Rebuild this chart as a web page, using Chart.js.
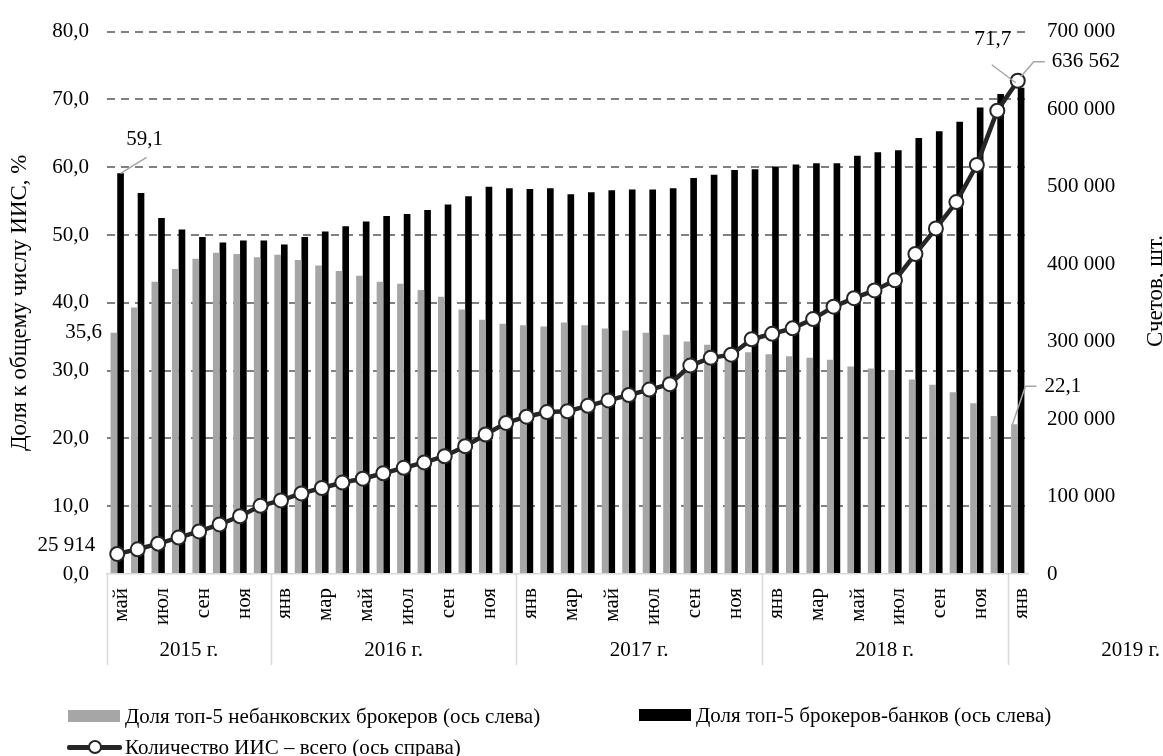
<!DOCTYPE html>
<html lang="ru">
<head>
<meta charset="utf-8">
<script src="https://cdn.jsdelivr.net/npm/chart.js@4.4.1/dist/chart.umd.min.js"></script>
<style>
  html, body { margin: 0; padding: 0; background: #fff; }
  #wrap { position: relative; width: 1163px; height: 756px; font-family: 'Liberation Serif', 'Times New Roman', serif; }
  #chart { position: absolute; left: 0; top: 0; }
  .lg { position: absolute; font-size: 21px; line-height: 24px; color: #000; white-space: nowrap; }
  .box { position: absolute; }
</style>
</head>
<body>
<div id="wrap">
  <canvas id="chart" width="1163" height="756"></canvas>
  <div id="legend"></div>
</div>
<script>
// categories: May 2015 .. Jan 2019
const categories = [
  'май', 'июн', 'июл', 'авг', 'сен', 'окт', 'ноя', 'дек',
  'янв', 'фев', 'мар', 'апр', 'май', 'июн', 'июл', 'авг', 'сен', 'окт', 'ноя', 'дек',
  'янв', 'фев', 'мар', 'апр', 'май', 'июн', 'июл', 'авг', 'сен', 'окт', 'ноя', 'дек',
  'янв', 'фев', 'мар', 'апр', 'май', 'июн', 'июл', 'авг', 'сен', 'окт', 'ноя', 'дек',
  'янв'
];
const years = ['2015 г.', '2016 г.', '2017 г.', '2018 г.', '2019 г.'];
const yearStarts = [0, 8, 20, 32, 44];

const seriesNames = [
  'Доля топ-5 небанковских брокеров (ось слева)',
  'Доля топ-5 брокеров-банков (ось слева)',
  'Количество ИИС – всего (ось справа)'
];

// % of all IIS accounts
const nonBankShare = [
  35.6, 39.3, 43.1, 45.0, 46.5, 47.4, 47.2, 46.7,
  47.1, 46.3, 45.5, 44.7, 44.0, 43.1, 42.8, 41.9, 40.9, 39.0, 37.5, 36.9,
  36.7, 36.5, 37.1, 36.7, 36.2, 35.9, 35.6, 35.3, 34.3, 33.8, 33.0, 32.7,
  32.4, 32.1, 31.9, 31.6, 30.6, 30.3, 30.1, 28.7, 27.9, 26.8, 25.2, 23.3,
  22.1
];
const bankShare = [
  59.1, 56.2, 52.5, 50.8, 49.7, 48.9, 49.2, 49.2,
  48.6, 49.7, 50.5, 51.3, 52.0, 52.8, 53.1, 53.7, 54.5, 55.7, 57.1, 56.9,
  56.8, 56.9, 56.0, 56.3, 56.6, 56.7, 56.7, 56.9, 58.4, 58.9, 59.6, 59.7,
  60.1, 60.4, 60.6, 60.6, 61.7, 62.2, 62.5, 64.3, 65.3, 66.7, 68.8, 70.8,
  71.7
];
// accounts, total
const accounts = [
  25914, 31900, 39200, 47000, 55000, 64000, 74500, 88000,
  95000, 104000, 111000, 118000, 123000, 130000, 137000, 144000, 152000, 165000, 180000, 195000,
  203000, 209000, 210000, 217000, 224000, 231000, 238000, 245000, 269000, 279000, 283000, 303000,
  310000, 317000, 329000, 345000, 356000, 366000, 379000, 413000, 446000, 480000, 528000, 598000,
  636562
];

const FONT = "'Liberation Serif', 'Times New Roman', serif";
const GREY = '#a6a6a6';
const LINE = '#262626';

const fmtPct = v => v.toFixed(1).replace('.', ',');
const fmtInt = v => String(Math.round(v)).replace(/\B(?=(\d{3})+(?!\d))/g, ' ');

// year groups, separators, right title, data labels
const extras = {
  id: 'extras',
  afterDraw(chart) {
    const { ctx, chartArea: a, scales: { x } } = chart;
    const half = (x.getPixelForValue(1) - x.getPixelForValue(0)) / 2;
    ctx.save();
    ctx.font = '21px ' + FONT;
    ctx.fillStyle = '#000';

    // group separators
    ctx.strokeStyle = '#d9d9d9';
    ctx.lineWidth = 1.5;
    yearStarts.forEach(i => {
      const bx = Math.round(x.getPixelForValue(i) - half) + 0.5;
      ctx.beginPath();
      ctx.moveTo(bx, a.bottom);
      ctx.lineTo(bx, a.bottom + 91);
      ctx.stroke();
    });

    // year labels
    ctx.textBaseline = 'middle';
    years.forEach((y, k) => {
      if (k === years.length - 1) {
        ctx.textAlign = 'right';
        ctx.fillText(y, chart.width - 3, a.bottom + 76);
        return;
      }
      const x0 = x.getPixelForValue(yearStarts[k]) - half;
      const x1 = x.getPixelForValue(yearStarts[k + 1]) - half;
      ctx.textAlign = 'center';
      ctx.fillText(y, (x0 + x1) / 2, a.bottom + 76);
    });

    // right axis title, reading bottom to top
    ctx.save();
    ctx.font = '23px ' + FONT;
    ctx.translate(chart.width - 1, 291);
    ctx.rotate(-Math.PI / 2);
    ctx.textAlign = 'center';
    ctx.textBaseline = 'alphabetic';
    ctx.fillText('Счетов, шт.', 0, 0);
    ctx.restore();

    // data labels
    const line = chart.getDatasetMeta(0).data;
    const grey = chart.getDatasetMeta(1).data;
    const black = chart.getDatasetMeta(2).data;
    const last = categories.length - 1;
    ctx.strokeStyle = GREY;
    ctx.lineWidth = 1.5;
    const leader = pts => {
      ctx.beginPath();
      ctx.moveTo(pts[0][0], pts[0][1]);
      pts.slice(1).forEach(p => ctx.lineTo(p[0], p[1]));
      ctx.stroke();
    };

    // first black bar
    let e = black[0];
    leader([[e.x, e.y], [e.x + 26, e.y - 16]]);
    ctx.textAlign = 'center';
    ctx.fillText(fmtPct(bankShare[0]), e.x + 24, e.y - 34);

    // first grey bar
    e = grey[0];
    ctx.textAlign = 'right';
    ctx.fillText(fmtPct(nonBankShare[0]), e.x - 12, e.y);

    // first line point
    e = line[0];
    ctx.fillText(fmtInt(accounts[0]), e.x - 22, e.y - 8);

    // last line point + last black bar
    e = line[last];
    leader([[e.x - 2, e.y + 2], [e.x - 26, e.y - 16]]);
    ctx.textAlign = 'center';
    ctx.fillText(fmtPct(bankShare[last]), e.x - 25, e.y - 41);
    leader([[e.x + 3, e.y - 4], [e.x + 16, e.y - 19], [e.x + 27, e.y - 19]]);
    ctx.textAlign = 'left';
    ctx.fillText(fmtInt(accounts[last]), e.x + 34, e.y - 19);

    // last grey bar
    e = grey[last];
    leader([[e.x - 2, e.y], [e.x + 11, e.y - 38], [e.x + 22, e.y - 38]]);
    ctx.fillText(fmtPct(nonBankShare[last]), e.x + 30, e.y - 38);

    ctx.restore();
  }
};

const ctx = document.getElementById('chart').getContext('2d');
const chart = new Chart(ctx, {
  data: {
    labels: categories,
    datasets: [
      {
        type: 'line',
        label: seriesNames[2],
        data: accounts,
        yAxisID: 'y1',
        order: 0,
        borderColor: LINE,
        borderWidth: 4.5,
        pointRadius: 7,
        pointBackgroundColor: '#fff',
        pointBorderColor: LINE,
        pointBorderWidth: 2,
        tension: 0
      },
      {
        type: 'bar',
        label: seriesNames[0],
        data: nonBankShare,
        yAxisID: 'y',
        order: 1,
        backgroundColor: GREY,
        categoryPercentage: 0.65,
        barPercentage: 1
      },
      {
        type: 'bar',
        label: seriesNames[1],
        data: bankShare,
        yAxisID: 'y',
        order: 1,
        backgroundColor: '#000',
        categoryPercentage: 0.65,
        barPercentage: 1
      }
    ]
  },
  options: {
    responsive: false,
    animation: false,
    layout: { padding: { top: 26, left: 0, right: 0, bottom: 0 } },
    plugins: {
      legend: { display: false },
      tooltip: { enabled: false }
    },
    scales: {
      x: {
        grid: { display: false, drawTicks: false },
        border: { display: true, color: '#d9d9d9', width: 1.5 },
        ticks: {
          autoSkip: false,
          minRotation: 90,
          maxRotation: 90,
          padding: 14,
          labelOffset: 4,
          color: '#000',
          font: { family: FONT, size: 21 },
          callback: (v, i) => (i % 2 === 0 ? categories[i] : '')
        },
        afterFit: s => { s.height = 182; }
      },
      y: {
        position: 'left',
        min: 0,
        max: 80,
        ticks: {
          stepSize: 10,
          padding: 18,
          color: '#000',
          font: { family: FONT, size: 21 },
          callback: v => fmtPct(v)
        },
        grid: {
          drawTicks: false,
          lineWidth: 2,
          color: c => (c.tick && c.tick.value === 0 ? 'rgba(0,0,0,0)' : '#808080')
        },
        border: { display: false, dash: [8, 6] },
        title: {
          display: true,
          text: 'Доля к общему числу ИИС, %',
          color: '#000',
          font: { family: FONT, size: 23 },
          padding: { top: 6, bottom: 0 }
        },
        afterFit: s => { s.width = 107; }
      },
      y1: {
        position: 'right',
        min: 0,
        max: 700000,
        ticks: {
          stepSize: 100000,
          padding: 19,
          color: '#000',
          font: { family: FONT, size: 21 },
          callback: v => fmtInt(v)
        },
        grid: { display: false, drawTicks: false },
        border: { display: false },
        afterFit: s => { s.width = 135; }
      }
    }
  },
  plugins: [extras]
});

// legend (html text)
const legend = document.getElementById('legend');
function addItem(left, top, textLeft, kind, text) {
  const sym = document.createElement('div');
  sym.className = 'box';
  if (kind === 'line') {
    sym.style.cssText = `left:${left}px;top:${top - 2.5}px;width:55px;height:5px;background:${LINE};border-radius:2px;`;
    const dot = document.createElement('div');
    dot.className = 'box';
    dot.style.cssText = `left:${left + 21}px;top:${top - 7}px;width:10px;height:10px;border:2px solid ${LINE};border-radius:50%;background:#fff;`;
    legend.appendChild(sym);
    legend.appendChild(dot);
  } else {
    sym.style.cssText = `left:${left}px;top:${top - 6}px;width:52px;height:12px;background:${kind};`;
    legend.appendChild(sym);
  }
  const t = document.createElement('div');
  t.className = 'lg';
  t.style.left = textLeft + 'px';
  t.style.top = (top - 12) + 'px';
  t.textContent = text;
  legend.appendChild(t);
}
addItem(68, 716, 125, GREY, seriesNames[0]);
addItem(639, 715, 696, '#000', seriesNames[1]);
addItem(67, 747, 125, 'line', seriesNames[2]);
</script>
</body>
</html>
